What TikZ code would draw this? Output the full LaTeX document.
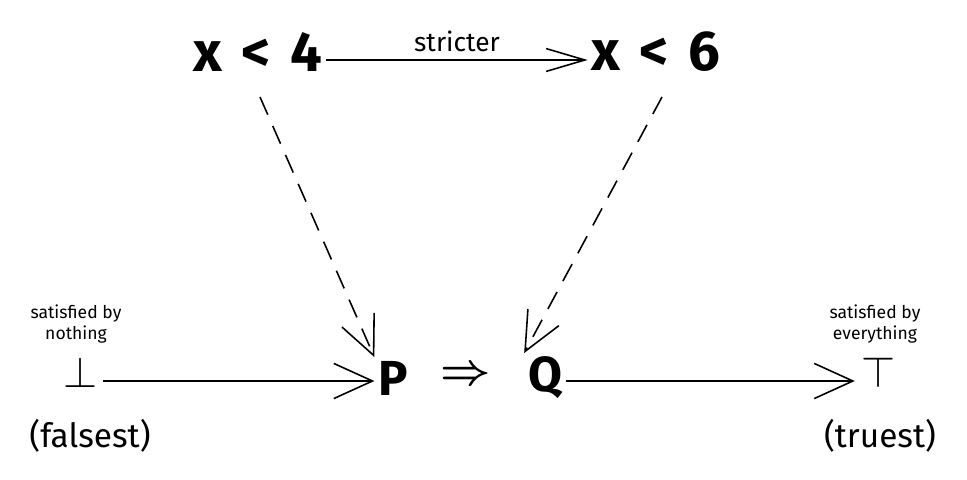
\documentclass[tikz,border=0pt]{standalone}
\usepackage{fontspec}
\setmainfont{Fira Sans}
\usetikzlibrary{arrows.meta}
\begin{document}
\begin{tikzpicture}[x=0.02cm, y=-0.02cm,
    big/.style={font=\fontsize{32}{36}\selectfont\bfseries, inner sep=2pt},
    sym/.style={font=\fontsize{28}{32}\selectfont\bfseries, inner sep=2pt},
    mid/.style={font=\fontsize{19}{22}\selectfont},
    tiny/.style={font=\fontsize{10}{12}\selectfont, align=center},
    arr/.style={-{Straight Barb[length=22pt, width=20pt]}, line width=0.9pt},
    darr/.style={arr, dash pattern=on 11pt off 7pt}]
    \useasboundingbox (0,0) rectangle (967,480);

    % Top formulas
    \node[big] (lt4) at (258,52) {x\hspace{0.35em}<\hspace{0.35em}4};
    \node[big] (lt6) at (656,52) {x\hspace{0.35em}<\hspace{0.35em}6};
    \draw[arr, -{Straight Barb[length=22pt, width=13pt]}] (lt4.east |- 0,60) -- node[above=1pt, font=\fontsize{15}{18}\selectfont] {stricter} (lt6.west |- 0,60);

    % Implication
    \node[sym] (p) at (393,378) {P};
    \node[font=\fontsize{30}{32}\selectfont\mathversion{bold}] (imp) at (466,376) {$\Rightarrow$};
    \node[sym] (q) at (545,378) {Q};
    \draw[darr] (260,97) -- (p.north west);
    \draw[darr] (662,97) -- (q.north west);

    % Bottom and top
    \node[font=\fontsize{30}{34}\selectfont] (bot) at (80,372) {$\bot$};
    \node[tiny] (botlbl) at (76,324) {satisfied by\\nothing};
    \node[mid] (false) at (90,436) {(falsest)};
    \node[font=\fontsize{30}{34}\selectfont] (top) at (878,372) {$\top$};
    \node[tiny] (toplbl) at (875,324) {satisfied by\\everything};
    \node[mid] (true) at (880,436) {(truest)};

    % Arrows along the bottom
    \draw[arr] (bot.east |- 0,381) -- (p.west |- 0,381);
    \draw[arr] (q.east |- 0,381) -- (top.west |- 0,381);
\end{tikzpicture}
\end{document}
